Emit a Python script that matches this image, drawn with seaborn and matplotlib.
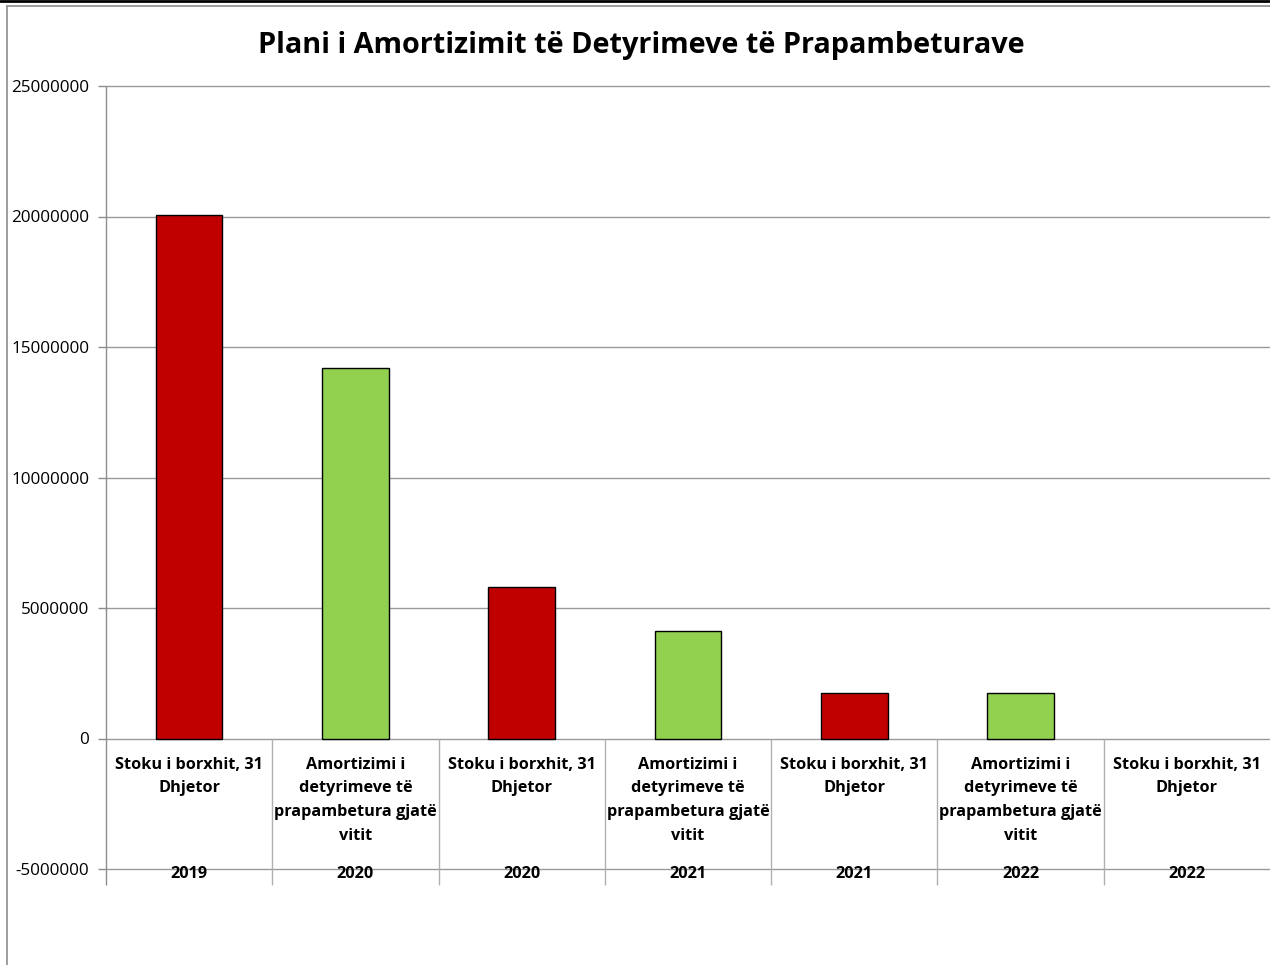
#!/usr/bin/env python3

import pandas as pd
import matplotlib.pyplot as plt
from matplotlib.lines import Line2D
import seaborn as sns

# chart data
labels = ["Stoku i borxhit, 31\nDhjetor",
          "Amortizimi i\ndetyrimeve të\nprapambetura gjatë\nvitit"] * 3 + \
         ["Stoku i borxhit, 31\nDhjetor"]
years = ["2019", "2020", "2020", "2021", "2021", "2022", "2022"]
kinds = ["stock", "amort", "stock", "amort", "stock", "amort", "stock"]
values = [20050000, 14200000, 5820000, 4100000, 1760000, 1760000, 0]
yticks = list(range(-5000000, 25000001, 5000000))


def plot_schedule():
    sns.set_style("white")
    plt.rcParams["font.family"] = ["Open Sans", "DejaVu Sans"]
    plt.rcParams["text.color"] = "black"
    plt.rcParams["ytick.labelcolor"] = "black"

    df = pd.DataFrame({"pos": [str(i) for i in range(len(values))],
                       "kind": kinds,
                       "value": values})

    fig = plt.figure(figsize=(12.7, 9.65), dpi=100)
    ax = fig.add_axes([106 / 1270, 1 - 869 / 965, 1 - 106 / 1270,
                       (869 - 86) / 965])

    sns.barplot(data=df, x="pos", y="value", hue="kind",
                palette={"stock": "#C00000", "amort": "#92D050"},
                saturation=1, width=0.4, dodge=False, edgecolor="black",
                linewidth=1, legend=False, ax=ax, zorder=3)
    # empty bars leave no outline
    for p in ax.patches:
        if p.get_height() == 0:
            p.set_linewidth(0)

    ax.set_xlim(-0.5, len(values) - 0.5)
    ax.set_ylim(yticks[0], yticks[-1])
    ax.set_yticks(yticks)
    ax.set_yticklabels([str(t) for t in yticks], fontsize=12.3,
                       color="black")
    ax.set_xticks([])
    ax.set(xlabel="", ylabel="")
    ax.tick_params(axis="y", length=6, width=1, color="#8c8c8c",
                   direction="out", pad=6, left=True)
    for s in ax.spines.values():
        s.set_visible(False)

    grey = "#9a9a9a"
    for t in yticks:
        ax.axhline(t, color=grey, lw=1, zorder=1, clip_on=False)
    low = -5600000
    ax.vlines([-0.5], low, yticks[-1], color="#8c8c8c", lw=1,
              clip_on=False, zorder=2)
    ax.vlines([i + 0.5 for i in range(len(values) - 1)], low, 0,
              color="#b0b0b0", lw=1, clip_on=False, zorder=2)

    for i, (lab, yr) in enumerate(zip(labels, years)):
        ax.text(i, -690000, lab, ha="center", va="top", fontsize=11.7,
                fontweight="bold", linespacing=1.66, zorder=4)
        ax.text(i, -5200000, yr, ha="center", va="center", fontsize=11.7,
                fontweight="bold", zorder=4)

    fig.suptitle("Plani i Amortizimit të Detyrimeve të Prapambeturave",
                 x=0.505, y=1 - 46 / 965, va="center", fontsize=20.8,
                 fontweight="bold")

    # outer chart frame
    fig.add_artist(Line2D([0, 1], [1 - 1 / 965] * 2, color="black", lw=2,
                          transform=fig.transFigure))
    fig.add_artist(Line2D([7 / 1270, 1], [1 - 6 / 965] * 2, color="#8c8c8c",
                          lw=1.2, transform=fig.transFigure))
    fig.add_artist(Line2D([7 / 1270] * 2, [0, 1 - 6 / 965], color="#8c8c8c",
                          lw=1.2, transform=fig.transFigure))

    plt.savefig("out.png", dpi=100)


def main():
    plot_schedule()


if __name__ == "__main__":
    main()
